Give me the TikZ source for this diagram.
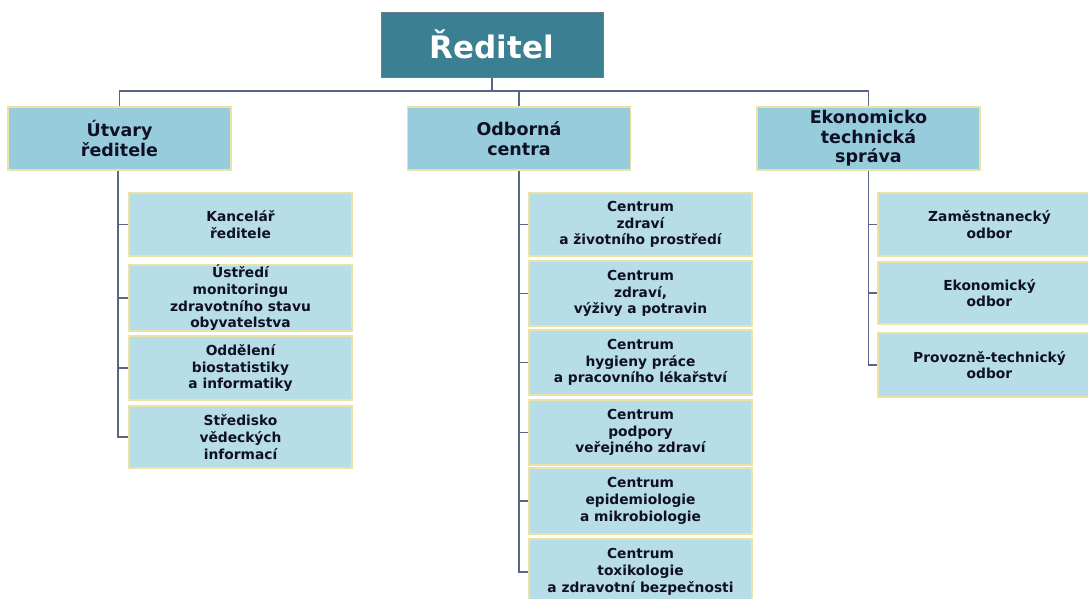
\documentclass[tikz,border=0pt]{standalone}
\usepackage{fontspec}
\setmainfont{DejaVu Sans}
\definecolor{topfill}{HTML}{3B7F93}
\definecolor{topline}{HTML}{6C7A8E}
\definecolor{lvlone}{HTML}{96CCDB}
\definecolor{lvltwo}{HTML}{B6DDE8}
\definecolor{boxline}{HTML}{EAE3A6}
\definecolor{conn}{HTML}{5B6585}
\definecolor{txt}{HTML}{101024}
\tikzset{
  topbox/.style={draw=topline, line width=1pt, fill=topfill, text=white,
    minimum width=222pt, minimum height=65pt, inner sep=0pt,
    font=\bfseries\fontsize{31}{35}\selectfont},
  onebox/.style={draw=boxline, line width=1.2pt, fill=lvlone, text=txt,
    minimum width=223pt, minimum height=63pt, inner sep=0pt, align=center,
    font=\bfseries\fontsize{17.5}{19.5}\selectfont},
  twobox/.style={draw=boxline, line width=1.2pt, fill=lvltwo, text=txt,
    minimum width=223pt, inner sep=0pt, align=center,
    font=\bfseries\fontsize{13.8}{16.7}\selectfont},
  conline/.style={draw=conn, line width=1.4pt}
}
\begin{document}
\begin{tikzpicture}[x=1pt,y=-1pt]
\clip (0,0) rectangle (1088,598);
\fill[white] (0,0) rectangle (1088,598);
% top
\node[topbox] (top) at (492,44.5) {Ředitel};
% level one
\node[onebox] (ut) at (119.5,138.5) {Útvary\\ředitele};
\node[onebox] (od) at (519,138.5) {Odborná\\centra};
\node[onebox] (ek) at (868.5,138.5) {Ekonomicko\\technická\\správa};
% left column
\node[twobox, minimum height=63pt] (a1) at (240.5,224.5) {Kancelář\\ředitele};
\node[twobox, minimum height=64pt] (a2) at (240.5,298) {Ústředí\\monitoringu\\zdravotního stavu\\obyvatelstva};
\node[twobox, minimum height=64pt] (a3) at (240.5,368) {Oddělení\\biostatistiky\\a informatiky};
\node[twobox, minimum height=62pt] (a4) at (240.5,437) {Středisko\\vědeckých\\informací};
% middle column
\node[twobox, minimum height=63pt] (b1) at (640.5,224.5) {Centrum\\zdraví\\a životního prostředí};
\node[twobox, minimum height=65pt] (b2) at (640.5,293.5) {Centrum\\zdraví,\\výživy a potravin};
\node[twobox, minimum height=65pt] (b3) at (640.5,362.5) {Centrum\\hygieny práce\\a pracovního lékařství};
\node[twobox, minimum height=65pt] (b4) at (640.5,432.5) {Centrum\\podpory\\veřejného zdraví};
\node[twobox, minimum height=66pt] (b5) at (640.5,501) {Centrum\\epidemiologie\\a mikrobiologie};
\node[twobox, minimum height=66pt] (b6) at (640.5,572) {Centrum\\toxikologie\\a zdravotní bezpečnosti};
% right column
\node[twobox, minimum height=63pt] (c1) at (989.5,224.5) {Zaměstnanecký\\odbor};
\node[twobox, minimum height=62pt] (c2) at (989.5,293) {Ekonomický\\odbor};
\node[twobox, minimum height=64pt] (c3) at (989.5,365) {Provozně-technický\\odbor};
% connectors
\coordinate (bar) at (492,91);
\draw[conline] (top.south) -- (bar);
\draw[conline] (ut.north) |- (bar) -| (ek.north);
\draw[conline] (od.north) -- (od.north |- bar);
\coordinate (ux) at (118,170);
\draw[conline] (ut.south -| ux) |- (a4.west);
\foreach \n in {a1,a2,a3} \draw[conline] (ux |- \n.west) -- (\n.west);
\draw[conline] (od.south) |- (b6.west);
\foreach \n in {b1,b2,b3,b4,b5} \draw[conline] (od.south |- \n.west) -- (\n.west);
\draw[conline] (ek.south) |- (c3.west);
\foreach \n in {c1,c2} \draw[conline] (ek.south |- \n.west) -- (\n.west);
\end{tikzpicture}
\end{document}
